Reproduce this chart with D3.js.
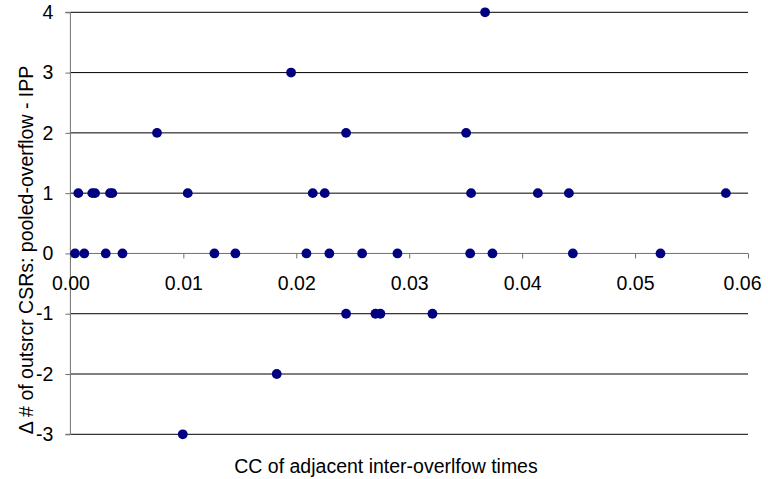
<!DOCTYPE html>
<html>
<head>
<meta charset="utf-8">
<script src="https://cdn.jsdelivr.net/npm/d3@7"></script>
<style>
  html, body { margin: 0; padding: 0; background: #fff; }
  svg { display: block; font-family: "Liberation Sans", Arial, sans-serif; }
</style>
</head>
<body>
<svg id="chart" width="768" height="479"></svg>
<script>
// Data
const xValues = [
  0.03672,
  0.01954,
  0.00767, 0.02441, 0.03504,
  0.00070, 0.00194, 0.00218, 0.00351, 0.00371, 0.01039, 0.02146, 0.02252, 0.03548, 0.04139, 0.04414, 0.05804,
  0.00041, 0.00123, 0.00313, 0.00461, 0.01275, 0.01461, 0.02090, 0.02293, 0.02583, 0.02896, 0.03540, 0.03737, 0.04449, 0.05225,
  0.02441, 0.02701, 0.02745, 0.03206,
  0.01827,
  0.00995
];
const yValues = [
  4,
  3,
  2, 2, 2,
  1, 1, 1, 1, 1, 1, 1, 1, 1, 1, 1, 1,
  0, 0, 0, 0, 0, 0, 0, 0, 0, 0, 0, 0, 0, 0,
  -1, -1, -1, -1,
  -2,
  -3
];
const xTicks = [0, 0.01, 0.02, 0.03, 0.04, 0.05, 0.06];
const yTicks = [-3, -2, -1, 0, 1, 2, 3, 4];
const xTitle = "CC of adjacent inter-overlfow times";
const yTitle = "\u0394 # of outsrcr CSRs: pooled-overflow - IPP";

(function () {
const svg = d3.select("#chart");
const pLeft = 70.4, pRight = 748, pTop = 12.3, pBottom = 434.3;

const x = d3.scaleLinear().domain([0, 0.06]).range([pLeft, pRight]);
const y = d3.scaleLinear().domain([-3, 4]).range([pBottom, pTop]);
const fontSize = 19.5;
const ff = "Liberation Sans, Arial, sans-serif";

// horizontal gridlines
svg.append("g").selectAll("line").data(yTicks.filter(d => d !== 0)).join("line")
  .attr("x1", pLeft).attr("x2", pRight)
  .attr("y1", d => y(d)).attr("y2", d => y(d))
  .attr("stroke", "#000").attr("stroke-width", 1);

// y axis
const yAxis = d3.axisLeft(y).tickValues(yTicks).tickFormat(d => String(d)).tickSize(5).tickPadding(12);
const gy = svg.append("g").attr("transform", `translate(${pLeft},0)`).call(yAxis);
gy.select(".domain").attr("stroke", "#707070").attr("d", `M-5,${pTop}H0V${pBottom}H-5`);
gy.selectAll(".tick line").attr("stroke", "#707070");
gy.selectAll("text").attr("font-size", fontSize).attr("font-family", ff).attr("fill", "#000");

// x axis at y = 0
const xAxis = d3.axisBottom(x).tickValues(xTicks).tickFormat(d => d.toFixed(2)).tickSize(5).tickPadding(18);
const gx = svg.append("g").attr("transform", `translate(0,${y(0)})`).call(xAxis);
gx.select(".domain").attr("stroke", "#707070").attr("d", `M${pLeft},0H${pRight}`);
gx.selectAll(".tick line").attr("stroke", "#707070");
gx.selectAll("text").attr("font-size", fontSize).attr("font-family", ff).attr("fill", "#000")
  .attr("dx", d => d === 0.06 ? -6 : 0);

// points
svg.append("g").selectAll("circle").data(xValues.map((v, i) => [v, yValues[i]])).join("circle")
  .attr("cx", d => x(d[0])).attr("cy", d => y(d[1])).attr("r", 4.9)
  .attr("fill", "#000080");

// titles
svg.append("text").attr("x", 386).attr("y", 473).attr("text-anchor", "middle")
  .attr("font-size", fontSize).attr("fill", "#000").text(xTitle);
svg.append("text").attr("transform", `translate(33,250) rotate(-90)`).attr("text-anchor", "middle")
  .attr("font-size", fontSize).attr("fill", "#000").text(yTitle);
})();
</script>
</body>
</html>
